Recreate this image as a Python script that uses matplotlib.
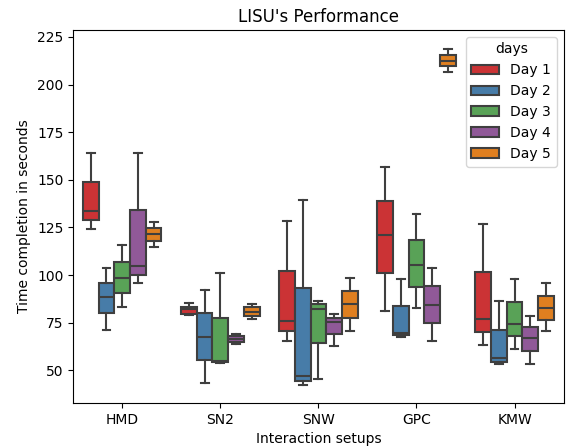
import matplotlib
matplotlib.use("Agg")
import matplotlib.pyplot as plt
import seaborn as sns
from matplotlib.patches import Patch

# Box statistics (rows = days, columns = setups)
setups = ["HMD", "SN2", "SNW", "GPC", "KMW"]
days = ["Day 1", "Day 2", "Day 3", "Day 4", "Day 5"]

whislo = [
    [124.0, 78.8, 65.4, 81.0, 63.1],
    [71.0, 43.3, 42.3, 67.5, 53.2],
    [83.0, 54.0, 45.3, 82.7, 61.0],
    [95.6, 63.8, 62.8, 65.4, 53.2],
    [114.8, 76.7, 70.5, 206.8, 70.7],
]
q1 = [
    [128.8, 79.4, 70.7, 101.1, 70.1],
    [80.0, 55.3, 44.2, 68.6, 54.4],
    [90.6, 54.2, 64.4, 93.8, 68.0],
    [99.9, 64.9, 68.9, 74.9, 60.0],
    [118.0, 78.4, 77.5, 209.8, 76.3],
]
med = [
    [133.7, 81.9, 75.9, 121.1, 76.7],
    [88.2, 67.5, 47.0, 69.5, 56.2],
    [98.2, 55.0, 82.4, 105.2, 74.2],
    [104.8, 66.3, 75.4, 84.5, 67.0],
    [121.3, 80.7, 84.7, 212.5, 82.8],
]
q3 = [
    [149.0, 83.3, 102.2, 138.8, 101.7],
    [95.9, 80.1, 93.3, 83.6, 71.0],
    [106.9, 77.5, 84.7, 118.3, 85.9],
    [134.1, 67.9, 77.5, 94.2, 72.8],
    [124.8, 83.0, 91.5, 215.5, 89.1],
]
whishi = [
    [163.9, 85.4, 128.3, 156.8, 126.7],
    [103.5, 92.1, 139.3, 97.8, 86.4],
    [115.7, 101.1, 86.4, 131.8, 97.8],
    [163.9, 68.9, 79.4, 103.8, 78.4],
    [128.0, 84.7, 98.4, 218.7, 95.6],
]

colors = sns.color_palette("Set1", 5, desat=0.75)
line_c = "#3f3f3f"

fig, ax = plt.subplots(figsize=(5.67, 4.46), dpi=100)
fig.subplots_adjust(left=0.129, right=0.994, top=0.933, bottom=0.096)

w = 0.16
for i, day in enumerate(days):
    stats = []
    for j in range(len(setups)):
        stats.append({"whislo": whislo[i][j], "q1": q1[i][j], "med": med[i][j],
                      "q3": q3[i][j], "whishi": whishi[i][j], "fliers": []})
    pos = [j - 0.32 + i * w for j in range(len(setups))]
    ax.bxp(stats, positions=pos, widths=w, patch_artist=True, showfliers=False,
           manage_ticks=False,
           boxprops=dict(facecolor=colors[i], edgecolor=line_c, linewidth=1.5),
           medianprops=dict(color=line_c, linewidth=1.5),
           whiskerprops=dict(color=line_c, linewidth=1.5),
           capprops=dict(color=line_c, linewidth=1.5))

ax.set_xticks(range(len(setups)))
ax.set_xticklabels(setups)
ax.set_xlim(-0.5, 4.5)
ax.set_ylim(32.7, 228.7)
ax.set_yticks([50, 75, 100, 125, 150, 175, 200, 225])

ax.set_title("LISU's Performance")
ax.set_xlabel("Interaction setups")
ax.set_ylabel("Time completion in seconds")

handles = [Patch(facecolor=colors[i], edgecolor=line_c, linewidth=1.5, label=d)
           for i, d in enumerate(days)]
ax.legend(handles=handles, title="days", loc="upper right")

plt.savefig("out.png")
